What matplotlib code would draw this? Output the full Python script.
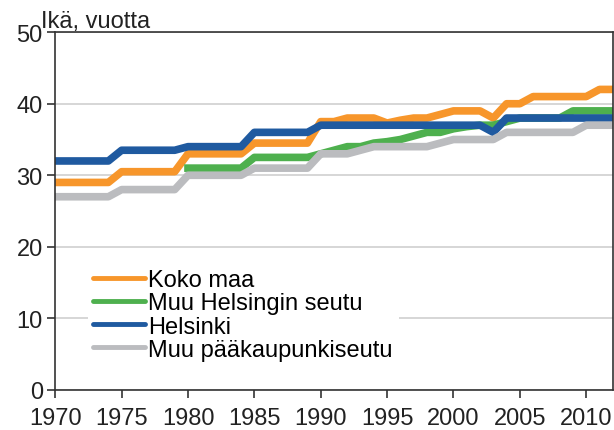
import matplotlib.pyplot as plt

plt.rcParams['font.family'] = ['Liberation Sans', 'DejaVu Sans']

years = list(range(1970, 2013))

koko_maa = [29, 29, 29, 29, 29,
            30.5, 30.5, 30.5, 30.5, 30.5,
            33, 33, 33, 33, 33,
            34.5, 34.5, 34.5, 34.5, 34.5,
            37.5, 37.5, 38, 38, 38, 37.3, 37.7, 38, 38, 38.5,
            39, 39, 39, 38, 40, 40, 41, 41, 41, 41, 41, 42, 42]

helsinki = [32, 32, 32, 32, 32,
            33.5, 33.5, 33.5, 33.5, 33.5,
            34, 34, 34, 34, 34,
            36, 36, 36, 36, 36,
            37, 37, 37, 37, 37, 37, 37, 37, 37, 37,
            37, 37, 37, 36, 38, 38, 38, 38, 38, 38, 38, 38, 38]

muu_hki_seutu = [None] * 10 + [
            31, 31, 31, 31, 31,
            32.5, 32.5, 32.5, 32.5, 32.5,
            33, 33.5, 34, 34, 34.5, 34.7, 35, 35.5, 36, 36,
            36.5, 36.8, 37, 37, 37.5, 38, 38, 38, 38, 39, 39, 39, 39]

muu_pk_seutu = [27, 27, 27, 27, 27,
                28, 28, 28, 28, 28,
                30, 30, 30, 30, 30,
                31, 31, 31, 31, 31,
                33, 33, 33, 33.5, 34, 34, 34, 34, 34, 34.5,
                35, 35, 35, 35, 36, 36, 36, 36, 36, 36, 37, 37, 37]

green_years = [y for y, v in zip(years, muu_hki_seutu) if v is not None]
green_vals = [v for v in muu_hki_seutu if v is not None]

fig = plt.figure(figsize=(6.14, 4.31), dpi=100)
ax = fig.add_axes([0.090, 0.093, 0.908, 0.830])

lw = 5.5
ax.plot(years, koko_maa, color='#F7962B', lw=lw, label='Koko maa')
ax.plot(green_years, green_vals, color='#4EB04E', lw=lw, label='Muu Helsingin seutu')
ax.plot(years, helsinki, color='#1F5AA0', lw=lw, label='Helsinki')
ax.plot(years, muu_pk_seutu, color='#BBBCBF', lw=lw, label='Muu pääkaupunkiseutu')

ax.set_xlim(1970, 2012)
ax.set_ylim(0, 50)
ax.set_xticks(range(1970, 2011, 5))
ax.set_yticks(range(0, 51, 10))
ax.yaxis.grid(True, color='#d0d0d0', lw=1.2)
ax.set_axisbelow(True)
for s in ax.spines.values():
    s.set_color('#333333')
    s.set_linewidth(1.2)
ax.tick_params(axis='both', direction='out', length=6, width=1.2,
               color='#333333', labelcolor='#222222', labelsize=17)
ax.tick_params(axis='x', pad=6)
ax.tick_params(axis='y', pad=3)

ax.text(-0.025, 1.0, 'Ikä, vuotta', transform=ax.transAxes,
        fontsize=17, color='#222222', ha='left', va='bottom')

leg = ax.legend(loc='lower left', bbox_to_anchor=(0.058, 0.065), frameon=True,
                fontsize=17, handlelength=2.2, handletextpad=0.12,
                labelspacing=0.05, borderpad=0.25, borderaxespad=0)
leg.get_frame().set_edgecolor('none')
leg.get_frame().set_facecolor('white')
leg.get_frame().set_alpha(1)
for ln in leg.get_lines():
    ln.set_linewidth(3.5)
    ln.set_solid_capstyle('round')

fig.savefig('out.png', dpi=100)
